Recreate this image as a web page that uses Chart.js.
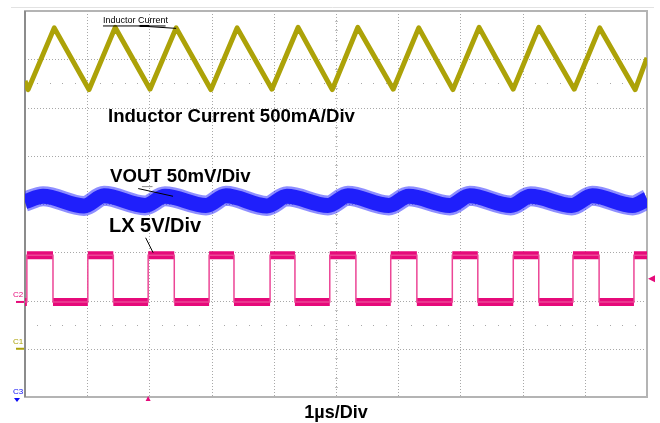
<!DOCTYPE html>
<html>
<head>
<meta charset="utf-8">
<script src="https://cdn.jsdelivr.net/npm/chart.js@4.4.0/dist/chart.umd.min.js"></script>
<style>
  body { margin: 0; background: #fff; }
  #wrap { width: 660px; height: 423px; position: relative; }
</style>
</head>
<body>
<div id="wrap"><canvas id="scope" width="660" height="423"></canvas></div>
<script>
// screen is 10 x 8 divisions, all values below are in divisions

// inductor current, triangle corners
const ilTime = [0, 0.05, 0.47, 1.03, 1.45, 2.01, 2.43, 2.99, 3.41, 3.97, 4.39, 4.94, 5.35, 5.92, 6.33, 6.88, 7.30, 7.85, 8.26, 8.83, 9.24, 9.81, 10];
const ilLevel = [6.55, 6.37, 7.65, 6.37, 7.66, 6.38, 7.65, 6.37, 7.65, 6.38, 7.66, 6.37, 7.66, 6.38, 7.65, 6.37, 7.66, 6.38, 7.66, 6.38, 7.65, 6.37, 7.03];

// VOUT ripple, peaks and troughs
const voutTime = [0, 0.29, 0.95, 1.27, 1.93, 2.25, 2.91, 3.23, 3.89, 4.21, 4.87, 5.19, 5.85, 6.17, 6.83, 7.15, 7.81, 8.13, 8.79, 9.12, 9.77, 10];
const voutLevel = [4.05, 4.16, 3.96, 4.17, 3.97, 4.16, 3.97, 4.17, 3.96, 4.16, 3.97, 4.17, 3.97, 4.16, 3.97, 4.17, 3.97, 4.16, 3.97, 4.17, 3.97, 4.10];

// LX switch node, edge times (first one rising) and low/high level
const lxEdges = [0.03, 0.45, 1.01, 1.42, 1.98, 2.40, 2.96, 3.36, 3.94, 4.34, 4.90, 5.32, 5.88, 6.30, 6.87, 7.28, 7.85, 8.26, 8.81, 9.23, 9.79];
const lxLevel = [1.97, 2.94];

const ilColor = 'rgb(172,162,8)';
const voutColor = 'rgb(10,10,245)';
const lxColor = 'rgb(230,10,122)';

function pts(t, v) {
  return t.map((x, i) => ({ x: x, y: v[i] }));
}

// square wave: full path (thin edges) and plateaus only (thick band)
let lxPath = [{ x: 0, y: lxLevel[0] }];
let lxFlat = [{ x: 0, y: lxLevel[0] }];
let lvl = 0;
lxEdges.forEach(function (t) {
  lxPath.push({ x: t, y: lxLevel[lvl] });
  lxFlat.push({ x: t, y: lxLevel[lvl] });
  lxFlat.push({ x: t, y: null });
  lvl = 1 - lvl;
  lxPath.push({ x: t, y: lxLevel[lvl] });
  lxFlat.push({ x: t, y: lxLevel[lvl] });
});
lxPath.push({ x: 10, y: lxLevel[lvl] });
lxFlat.push({ x: 10, y: lxLevel[lvl] });

const scopeDecor = {
  id: 'scopeDecor',
  beforeDatasetsDraw(chart) {
    const ctx = chart.ctx;
    const a = chart.chartArea;
    const sx = chart.scales.x, sy = chart.scales.y;
    ctx.save();
    // faint line above screen
    ctx.strokeStyle = '#e2e2e2';
    ctx.lineWidth = 1;
    ctx.beginPath();
    ctx.moveTo(11, 7.5); ctx.lineTo(654, 7.5);
    ctx.stroke();
    // dotted grid
    ctx.strokeStyle = '#a8a8a8';
    ctx.setLineDash([1, 2]);
    for (let i = 1; i < 10; i++) {
      const px = Math.round(sx.getPixelForValue(i)) + 0.5;
      ctx.beginPath(); ctx.moveTo(px, a.top); ctx.lineTo(px, a.bottom); ctx.stroke();
    }
    for (let j = 1; j < 8; j++) {
      const py = Math.round(sy.getPixelForValue(j)) + 0.5;
      ctx.beginPath(); ctx.moveTo(a.left, py); ctx.lineTo(a.right, py); ctx.stroke();
    }
    ctx.setLineDash([]);
    // sparse dot rows
    ctx.fillStyle = '#a8a8a8';
    [6.5, 1.5].forEach(function (r) {
      const py = Math.round(sy.getPixelForValue(r));
      for (let k = 1; k < 50; k++) {
        if (k % 5 === 0) continue;
        ctx.fillRect(Math.round(sx.getPixelForValue(k / 5)), py, 1, 1);
      }
    });
    // minor ticks on centre vertical line
    ctx.strokeStyle = '#c4c4c4';
    const cx = Math.round(sx.getPixelForValue(5)) + 0.5;
    for (let k = 1; k < 40; k++) {
      if (k % 5 === 0) continue;
      const py = Math.round(sy.getPixelForValue(k / 5)) + 0.5;
      ctx.beginPath(); ctx.moveTo(cx - 1.5, py); ctx.lineTo(cx + 1.5, py); ctx.stroke();
    }
    // screen border
    ctx.strokeStyle = '#b4b4b4';
    ctx.lineWidth = 2;
    ctx.strokeRect(a.left, a.top, a.width, a.height);
    ctx.strokeStyle = '#8c8c8c';
    ctx.beginPath(); ctx.moveTo(a.left, a.top); ctx.lineTo(a.left, a.bottom); ctx.stroke();
    ctx.restore();
  },
  afterDatasetsDraw(chart) {
    const ctx = chart.ctx;
    const a = chart.chartArea;
    const sx = chart.scales.x, sy = chart.scales.y;
    const X = v => sx.getPixelForValue(v);
    const Y = v => sy.getPixelForValue(v);
    ctx.save();
    ctx.fillStyle = '#000';
    ctx.textBaseline = 'middle';
    ctx.textAlign = 'left';
    ctx.font = 'bold 18.6px "Liberation Sans", Arial, sans-serif';
    ctx.fillText('Inductor Current 500mA/Div', X(1.334), Y(5.80));
    ctx.fillText('VOUT 50mV/Div', X(1.367), Y(4.56));
    ctx.font = 'bold 20px "Liberation Sans", Arial, sans-serif';
    ctx.fillText('LX 5V/Div', X(1.35), Y(3.53));
    ctx.textAlign = 'center';
    ctx.font = 'bold 18px "Liberation Sans", Arial, sans-serif';
    ctx.fillText('1\u00b5s/Div', X(5), a.bottom + 16);

    // small trace label with underline and leader
    ctx.textAlign = 'left';
    ctx.font = '9px "Liberation Sans", Arial, sans-serif';
    ctx.fillText('Inductor Current', X(1.254), Y(7.81));
    ctx.strokeStyle = '#000';
    ctx.lineWidth = 1;
    ctx.beginPath();
    ctx.moveTo(X(1.254), Y(7.69)); ctx.lineTo(X(2.26), Y(7.69));
    ctx.moveTo(X(1.83), Y(7.69)); ctx.lineTo(X(2.43), Y(7.64));
    ctx.stroke();
    ctx.lineWidth = 2;
    ctx.beginPath(); ctx.moveTo(X(1.85), Y(7.69)); ctx.lineTo(X(2.0), Y(7.69)); ctx.stroke();
    // VOUT leader
    ctx.lineWidth = 1;
    ctx.beginPath();
    ctx.moveTo(X(1.82), Y(4.32)); ctx.lineTo(X(2.38), Y(4.16));
    ctx.stroke();
    ctx.strokeStyle = '#888';
    ctx.beginPath(); ctx.moveTo(X(1.88), Y(4.36)); ctx.lineTo(X(2.05), Y(4.36)); ctx.stroke();
    // LX leader
    ctx.strokeStyle = '#000';
    ctx.beginPath();
    ctx.moveTo(X(1.94), Y(3.3)); ctx.lineTo(X(2.06), Y(2.99));
    ctx.stroke();

    // channel markers on the left
    ctx.font = '8px "Liberation Sans", Arial, sans-serif';
    ctx.textAlign = 'left';
    const marks = [[lxColor, 'C2', lxLevel[0]], [ilColor, 'C1', 1.0]];
    marks.forEach(function (m) {
      ctx.fillStyle = m[0];
      ctx.fillText(m[1], 13, Y(m[2]) - 7);
      ctx.fillRect(16, Y(m[2]) - 1, 8, 2);
    });
    ctx.fillStyle = voutColor;
    ctx.fillText('C3', 13, a.bottom - 5);
    ctx.beginPath();
    ctx.moveTo(14, a.bottom + 1); ctx.lineTo(20, a.bottom + 1); ctx.lineTo(17, a.bottom + 5);
    ctx.closePath(); ctx.fill();

    // trigger level and trigger position
    ctx.fillStyle = lxColor;
    const ty = Y(2.45);
    ctx.beginPath();
    ctx.moveTo(648, ty); ctx.lineTo(655, ty - 3.5); ctx.lineTo(655, ty + 3.5);
    ctx.closePath(); ctx.fill();
    const tx = X(lxEdges[4]);
    ctx.beginPath();
    ctx.moveTo(tx, a.bottom - 1); ctx.lineTo(tx - 2.5, a.bottom + 4); ctx.lineTo(tx + 2.5, a.bottom + 4);
    ctx.closePath(); ctx.fill();
    ctx.restore();
  }
};

new Chart(document.getElementById('scope'), {
  type: 'line',
  data: {
    datasets: [
      {
        label: 'Inductor Current',
        data: pts(ilTime, ilLevel),
        borderColor: ilColor,
        borderWidth: 5,
        borderJoinStyle: 'round',
        pointRadius: 0,
        tension: 0
      },
      {
        label: 'VOUT band',
        data: pts(voutTime, voutLevel),
        borderColor: 'rgba(50,50,255,0.55)',
        borderWidth: 20,
        pointRadius: 0,
        cubicInterpolationMode: 'monotone'
      },
      {
        label: 'VOUT',
        data: pts(voutTime, voutLevel),
        borderColor: voutColor,
        borderWidth: 15,
        pointRadius: 0,
        cubicInterpolationMode: 'monotone'
      },
      {
        label: 'LX edges',
        data: lxPath,
        borderColor: 'rgb(236,70,150)',
        borderWidth: 1.5,
        pointRadius: 0,
        tension: 0
      },
      {
        label: 'LX',
        data: lxFlat,
        borderColor: lxColor,
        borderWidth: 8,
        borderCapStyle: 'butt',
        pointRadius: 0,
        spanGaps: false,
        tension: 0
      }
    ]
  },
  options: {
    responsive: false,
    animation: false,
    layout: { padding: { left: 25, right: 13, top: 11, bottom: 26 } },
    plugins: { legend: { display: false }, tooltip: { enabled: false } },
    scales: {
      x: { type: 'linear', min: 0, max: 10, display: false },
      y: { type: 'linear', min: 0, max: 8, display: false }
    }
  },
  plugins: [scopeDecor]
});
</script>
</body>
</html>
